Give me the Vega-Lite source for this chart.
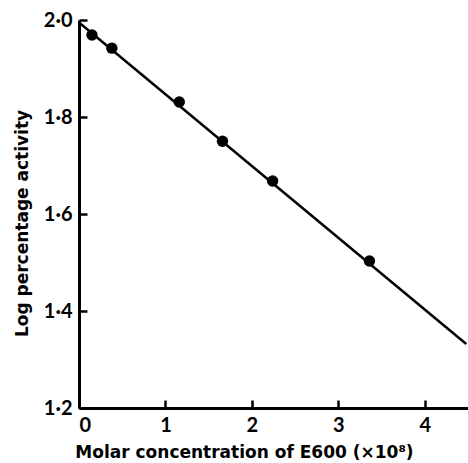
{
  "$schema": "https://vega.github.io/schema/vega-lite/v6.json",
  "autosize": {"type": "none"},
  "padding": {"left": 79, "top": 20, "right": 0, "bottom": 55},
  "width": 389,
  "height": 388,
  "background": "white",
  "config": {
    "view": {"stroke": null},
    "axis": {
      "domainColor": "black",
      "domainWidth": 3,
      "ticks": false,
      "grid": true,
      "gridColor": "black",
      "gridOpacity": 1,
      "gridWidth": 2.5,
      "labelFont": "Lato",
      "labelFontWeight": "bold",
      "labelFontSize": 20,
      "labelColor": "black",
      "titleFont": "DejaVu Sans",
      "titleFontWeight": "bold",
      "titleFontSize": 17,
      "titleColor": "black"
    },
    "axisX": {"gridDash": [0, 380, 8, 2000]},
    "axisY": {"gridDash": [8, 2000]}
  },
  "datasets": {
    "points": [
      {"conc": 0.15, "logact": 1.969},
      {"conc": 0.38, "logact": 1.942},
      {"conc": 1.16, "logact": 1.831},
      {"conc": 1.66, "logact": 1.750},
      {"conc": 2.24, "logact": 1.668},
      {"conc": 3.36, "logact": 1.503}
    ],
    "fit": [
      {"conc": 0.0, "logact": 1.995},
      {"conc": 4.48, "logact": 1.332}
    ]
  },
  "layer": [
    {
      "data": {"name": "fit"},
      "mark": {"type": "line", "color": "black", "strokeWidth": 2.5},
      "encoding": {
        "x": {"field": "conc", "type": "quantitative",
          "scale": {"domain": [0, 4.5], "nice": false},
          "axis": {"values": [0, 1, 2, 3, 4], "format": "d",
            "title": "Molar concentration of E600 (×10⁸)", "labelPadding": 7, "titlePadding": 9,
            "titleX": 165, "titleAlign": "center"}},
        "y": {"field": "logact", "type": "quantitative",
          "scale": {"domain": [1.2, 2.0], "nice": false, "zero": false},
          "axis": {"values": [1.2, 1.4, 1.6, 1.8, 2.0],
            "title": "Log percentage activity",
            "labelExpr": "replace(format(datum.value, '.1f'), '.', '·')", "labelPadding": 7, "titlePadding": 12,
            "titleY": 203, "titleAlign": "center"}}
      }
    },
    {
      "data": {"name": "points"},
      "mark": {"type": "circle", "color": "black", "opacity": 1, "size": 130},
      "encoding": {
        "x": {"field": "conc", "type": "quantitative"},
        "y": {"field": "logact", "type": "quantitative"}
      }
    }
  ]
}
